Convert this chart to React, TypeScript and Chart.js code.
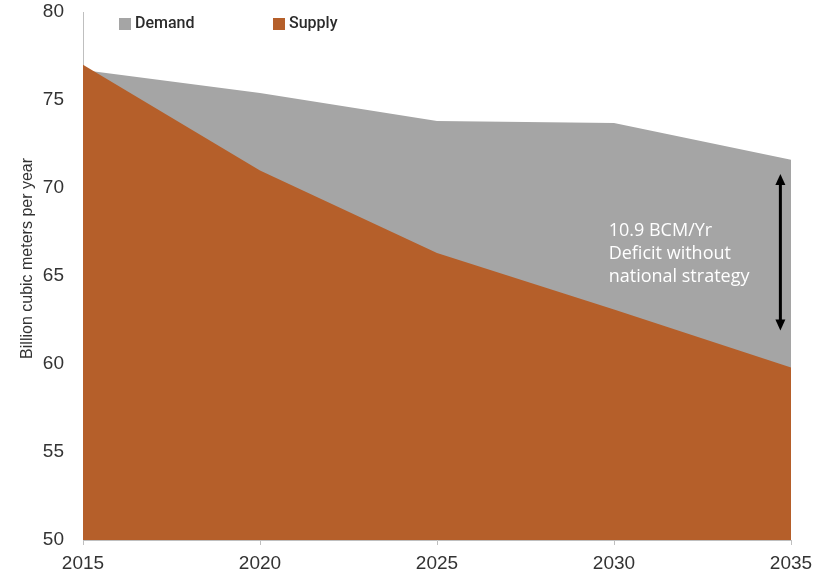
import React, { useEffect, useRef } from 'react';
import { Chart, registerables } from 'chart.js';

Chart.register(...registerables);

// ---- data ----
const years = [2015, 2020, 2025, 2030, 2035];
const demand = [76.7, 75.4, 73.8, 73.7, 71.6];
const supply = [77.0, 71.0, 66.3, 63.1, 59.8];
const seriesLabels = ['Demand', 'Supply'];
const yTickValues = [50, 55, 60, 65, 70, 75, 80];
const xTickValues = [2015, 2020, 2025, 2030, 2035];
const noteLines = ['10.9 BCM/Yr', 'Deficit without', 'national strategy'];
const yTitle = 'Billion cubic meters per year';

// annotation anchor (data units)
const arrowYear = 2034.7;
const arrowTop = 70.8;
const arrowBottom = 61.9;
const noteYear = 2029.85;
const noteValue = 67.55;
const titleCenterValue = 66.0;

const GREY = '#A5A5A5';
const ORANGE = '#B55F2A';

export default function App() {
  const ref = useRef<HTMLCanvasElement | null>(null);

  useEffect(() => {
    if (!ref.current) return;

    const overlay = {
      id: 'overlay',
      afterDatasetsDraw(chart: any) {
        const ctx = chart.ctx;
        const xs = chart.scales.x;
        const ys = chart.scales.y;
        ctx.save();

        // y axis title
        ctx.save();
        ctx.translate(28, ys.getPixelForValue(titleCenterValue));
        ctx.rotate(-Math.PI / 2);
        ctx.font = '16px "Liberation Sans", Arial, sans-serif';
        ctx.fillStyle = '#333333';
        ctx.textAlign = 'center';
        ctx.textBaseline = 'middle';
        ctx.fillText(yTitle, 0, 0);
        ctx.restore();

        // legend
        ctx.font = '500 16px Roboto, "Open Sans", sans-serif';
        ctx.textBaseline = 'middle';
        ctx.textAlign = 'left';
        const legendY = chart.chartArea.top + 12;
        const items = [
          { label: seriesLabels[0], color: GREY, x: 119 },
          { label: seriesLabels[1], color: ORANGE, x: 273 },
        ];
        items.forEach((it) => {
          ctx.fillStyle = it.color;
          ctx.fillRect(it.x, legendY - 6, 12, 12);
          ctx.fillStyle = '#2b2b2b';
          ctx.fillText(it.label, it.x + 16, legendY);
        });

        // arrow
        const ax = xs.getPixelForValue(arrowYear);
        const at = ys.getPixelForValue(arrowTop);
        const ab = ys.getPixelForValue(arrowBottom);
        ctx.strokeStyle = '#000000';
        ctx.fillStyle = '#000000';
        ctx.lineWidth = 3;
        ctx.beginPath();
        ctx.moveTo(ax, at + 8);
        ctx.lineTo(ax, ab - 8);
        ctx.stroke();
        ctx.beginPath();
        ctx.moveTo(ax, at);
        ctx.lineTo(ax - 5, at + 11);
        ctx.lineTo(ax + 5, at + 11);
        ctx.closePath();
        ctx.fill();
        ctx.beginPath();
        ctx.moveTo(ax, ab);
        ctx.lineTo(ax - 5, ab - 11);
        ctx.lineTo(ax + 5, ab - 11);
        ctx.closePath();
        ctx.fill();

        // note text
        const nx = xs.getPixelForValue(noteYear);
        const ny = ys.getPixelForValue(noteValue);
        ctx.fillStyle = '#FFFFFF';
        ctx.font = '18px "Open Sans"';
        ctx.textAlign = 'left';
        ctx.textBaseline = 'middle';
        noteLines.forEach((line, i) => {
          ctx.fillText(line, nx, ny + i * 22.7);
        });
        ctx.restore();
      },
    };

    const chart = new Chart(ref.current, {
      type: 'line',
      data: {
        datasets: [
          {
            label: seriesLabels[1],
            data: years.map((x, i) => ({ x, y: supply[i] })),
            backgroundColor: ORANGE,
            borderColor: ORANGE,
            borderWidth: 0,
            pointRadius: 0,
            fill: 'start',
            tension: 0,
          },
          {
            label: seriesLabels[0],
            data: years.map((x, i) => ({ x, y: demand[i] })),
            backgroundColor: GREY,
            borderColor: GREY,
            borderWidth: 0,
            pointRadius: 0,
            fill: 'start',
            tension: 0,
          },
        ],
      },
      options: {
        responsive: false,
        animation: false,
        layout: { padding: { top: 12, right: 25, left: 0, bottom: 0 } },
        plugins: {
          legend: { display: false },
          tooltip: { enabled: false },
        },
        scales: {
          x: {
            type: 'linear',
            min: 2015,
            max: 2035,
            afterBuildTicks: (scale: any) => {
              scale.ticks = xTickValues.map((v) => ({ value: v }));
            },
            afterFit: (scale: any) => {
              scale.height = 39;
              scale.paddingLeft = 0;
              scale.paddingRight = 0;
              scale.paddingTop = 0;
              scale.paddingBottom = 0;
            },
            ticks: {
              callback: (v: any) => String(v),
              font: { family: '"Liberation Sans", Arial, sans-serif', size: 19 },
              color: '#333333',
              padding: 7,
              maxRotation: 0,
            },
            grid: {
              display: true,
              drawOnChartArea: false,
              drawTicks: true,
              tickLength: 5,
              color: '#BFBFBF',
            },
            border: { display: true, color: '#BFBFBF', width: 1 },
          },
          y: {
            min: 50,
            max: 80,
            afterBuildTicks: (scale: any) => {
              scale.ticks = yTickValues.map((v) => ({ value: v }));
            },
            afterFit: (scale: any) => {
              scale.width = 83;
              scale.paddingLeft = 0;
              scale.paddingRight = 0;
              scale.paddingTop = 0;
              scale.paddingBottom = 0;
            },
            ticks: {
              callback: (v: any) => String(v),
              font: { family: '"Liberation Sans", Arial, sans-serif', size: 19 },
              color: '#333333',
              padding: 19,
            },
            grid: { display: false, drawTicks: false },
            border: { display: true, color: '#BFBFBF', width: 1 },
            title: { display: false },
          },
        },
      },
      plugins: [overlay],
    } as any);

    return () => chart.destroy();
  }, []);

  return (
    <div style={{ position: 'absolute', left: 0, top: 0, width: 816, height: 579, background: '#fff' }}>
      <canvas ref={ref} width={816} height={579} style={{ display: 'block' }} />
    </div>
  );
}
